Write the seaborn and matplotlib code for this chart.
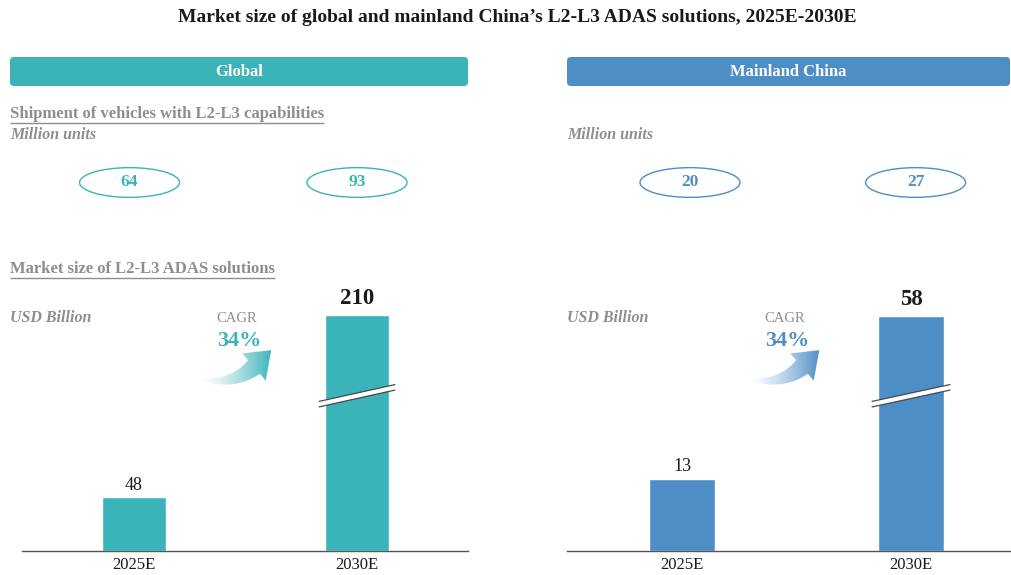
"""
Market size of global and mainland China's L2-L3 ADAS solutions, 2025E-2030E.

Two panels (Global / Mainland China), each with shipment bubbles on top
and a bar chart of the market size below.  Saves out.png.
"""

import numpy as np
import pandas as pd
import matplotlib
matplotlib.use("Agg")
import matplotlib.pyplot as plt
import seaborn as sns
from matplotlib.patches import FancyBboxPatch, Ellipse, PathPatch
from matplotlib.path import Path
from matplotlib.transforms import blended_transform_factory

# ── DATA ──────────────────────────────────────────────────────────────────────

YEARS           = ["2025E", "2030E"]
GLOBAL_SHIPMENT = [64, 93]      # million units
CHINA_SHIPMENT  = [20, 27]
GLOBAL_MARKET   = [48, 210]     # USD billion
CHINA_MARKET    = [13, 58]
GLOBAL_CAGR     = "34%"
CHINA_CAGR      = "34%"

# ── STYLE ─────────────────────────────────────────────────────────────────────

W, H  = 1012, 575
TEAL  = "#3AB4B9"
BLUE  = "#4E8EC6"
GREY  = "#8E8E8E"
DARK  = "#1A1A1A"

sns.set_theme(style="white")
plt.rcParams["font.family"] = ["Liberation Serif", "DejaVu Serif"]


def px_rect(x0, y0, x1, y1):
    """Pixel box (y down) -> figure fraction [left, bottom, width, height]."""
    return [x0 / W, 1 - y1 / H, (x1 - x0) / W, (y1 - y0) / H]


def broken_scale(break_at, k):
    """Linear up to break_at, compressed by k above it."""
    def fwd(y):
        y = np.asarray(y, dtype=float)
        return np.where(y <= break_at, y, break_at + (y - break_at) * k)

    def inv(y):
        y = np.asarray(y, dtype=float)
        return np.where(y <= break_at, y, break_at + (y - break_at) / k)
    return fwd, inv


def gradient_arrow(ov, x0, y0, color):
    """Curved arrow fading in from the left, drawn in overlay pixel coords."""
    P0 = np.array([x0, y0])
    P1 = P0 + np.array([32.0, 7.0])
    P2 = P0 + np.array([54.0, -12.0])
    t  = np.linspace(0, 1, 40)[:, None]
    pts  = (1 - t) ** 2 * P0 + 2 * (1 - t) * t * P1 + t ** 2 * P2
    tang = 2 * (1 - t) * (P1 - P0) + 2 * t * (P2 - P1)
    tang = tang / np.linalg.norm(tang, axis=1, keepdims=True)
    norm = np.column_stack([tang[:, 1], -tang[:, 0]])
    hw   = (1.0 + 8.0 * t)
    upper = pts + norm * hw
    lower = pts - norm * hw
    d, n = tang[-1], norm[-1]
    head = [P2 + n * 18, P2 + d * 24 + n * 1.5, P2 - n * 18]
    verts = np.vstack([upper, head, lower[::-1], upper[:1]])
    codes = [Path.MOVETO] + [Path.LINETO] * (len(verts) - 2) + [Path.CLOSEPOLY]
    patch = PathPatch(Path(verts, codes), fc="none", ec="none",
                      transform=ov.transData)
    ov.add_patch(patch)

    rgb = matplotlib.colors.to_rgb(color)
    grad = np.zeros((1, 256, 4))
    grad[..., :3] = rgb
    grad[..., 3] = np.linspace(0, 1, 256) ** 1.4
    xmin, xmax = verts[:, 0].min(), verts[:, 0].max()
    ymin, ymax = verts[:, 1].min(), verts[:, 1].max()
    im = ov.imshow(grad, extent=(xmin, xmax, ymax, ymin), aspect="auto",
                   interpolation="bilinear", zorder=3)
    im.set_clip_path(patch)


def underlined(fig, ov, x, y, s, **kw):
    t = ov.text(x, y, s, **kw)
    fig.canvas.draw()
    bb = t.get_window_extent()
    inv = ov.transData.inverted()
    (ax0, ay0), (ax1, _) = inv.transform([(bb.x0, bb.y0), (bb.x1, bb.y1)])
    ov.plot([ax0, ax1], [ay0 + 1.0, ay0 + 1.0], color=kw.get("color", GREY),
            lw=1.0, solid_capstyle="butt")


# ── PANEL ─────────────────────────────────────────────────────────────────────

def draw_panel(fig, ov, p):
    x0, x1 = p["x0"], p["x1"]

    # header strip
    ov.add_patch(FancyBboxPatch((p["hx0"], 57), p["hx1"] - p["hx0"], 29,
                                boxstyle="round,pad=0,rounding_size=4",
                                fc=p["color"], ec="none"))
    ov.text((p["hx0"] + p["hx1"]) / 2, 72, p["name"], color="white",
            fontsize=12, fontweight="bold", ha="center", va="center")

    lx = p["hx0"]
    if p["show_titles"]:
        underlined(fig, ov, lx, 114, "Shipment of vehicles with L2-L3 capabilities",
                   color=GREY, fontsize=12, fontweight="bold", va="center")
        underlined(fig, ov, lx, 269, "Market size of L2-L3 ADAS solutions",
                   color=GREY, fontsize=12, fontweight="bold", va="center")
    ov.text(lx, 135, "Million units", color=GREY, fontsize=11.5,
            fontweight="bold", style="italic", va="center")
    ov.text(lx, 318, "USD Billion", color=GREY, fontsize=11.5,
            fontweight="bold", style="italic", va="center")

    xlim = (-(p["zero"] - x0) / p["unit"], (x1 - p["zero"]) / p["unit"])

    # shipment ellipses
    ax_s = fig.add_axes(px_rect(x0, 160, x1, 205))
    ax_s.set_xlim(xlim)
    ax_s.set_ylim(0, 1)
    ax_s.axis("off")
    for i, v in enumerate(p["shipment"]):
        ax_s.add_patch(Ellipse((i + p["ell_dx"][i], 0.5), 100 / p["unit"], 0.66,
                               fc="white", ec=p["color"], lw=1.0))
        ax_s.text(i + p["ell_dx"][i], 0.5, str(v), color=p["color"], fontsize=12.5,
                  fontweight="bold", ha="center", va="center")

    # market size bars
    ax = fig.add_axes(px_rect(x0, 300, x1, 551))
    ax.patch.set_alpha(0)
    df = pd.DataFrame({"year": YEARS, "value": p["market"]})
    sns.barplot(df, x="year", y="value", color=p["color"], saturation=1,
                width=0.29, ax=ax)
    ax.set_yscale("function", functions=broken_scale(p["break_at"], p["k"]))
    ax.set_ylim(0, p["ytop"])
    ax.set_xlim(xlim)
    for i, v in enumerate(p["market"]):
        last = i == len(p["market"]) - 1
        ax.annotate(str(v), (i, v), xytext=(0, 4 if last else 2.5),
                    textcoords="offset points", ha="center", va="bottom",
                    fontsize=16.5 if last else 13, color=DARK,
                    fontweight="bold" if last else "normal")

    # axis break on the tall bar
    tr = blended_transform_factory(ax.transData, ax.transAxes)
    bx = np.array([0.83, 1.17])
    by = np.array([0.585, 0.652])
    ax.plot(bx, by, color="white", lw=3.6, transform=tr, clip_on=False,
            solid_capstyle="butt", zorder=4)
    for off in (-0.011, 0.011):
        ax.plot(bx, by + off, color="#4A4A4A", lw=0.9, transform=tr,
                clip_on=False, zorder=5)

    sns.despine(ax=ax, left=True)
    ax.spines["bottom"].set_color("#555555")
    ax.spines["bottom"].set_linewidth(1.0)
    ax.set_yticks([])
    ax.set_xlabel("")
    ax.set_ylabel("")
    ax.tick_params(axis="x", length=0, pad=4.5, labelsize=12, labelcolor=DARK)

    # CAGR annotation
    cx = p["cagr_x"]
    ov.text(cx, 318, "CAGR", color=GREY, fontsize=10.5, ha="center", va="center")
    ov.text(cx + 2, 341, p["cagr"], color=p["color"], fontsize=16,
            fontweight="bold", ha="center", va="center")
    gradient_arrow(ov, cx - 37, 379, p["color"])


PANELS = [
    dict(name="Global", color=TEAL, hx0=10, hx1=468, x0=22, x1=468,
         zero=134, unit=223, ell_dx=(-0.02, 0.0),
         shipment=GLOBAL_SHIPMENT, market=GLOBAL_MARKET, cagr=GLOBAL_CAGR,
         break_at=1e9, k=1.0, ytop=223, show_titles=True, cagr_x=237),
    dict(name="Mainland China", color=BLUE, hx0=567, hx1=1010, x0=567, x1=1010,
         zero=682, unit=229, ell_dx=(0.035, 0.02),
         shipment=CHINA_SHIPMENT, market=CHINA_MARKET, cagr=CHINA_CAGR,
         break_at=26, k=0.513, ytop=63.6, show_titles=False, cagr_x=785),
]

# ── MAIN ──────────────────────────────────────────────────────────────────────

fig = plt.figure(figsize=(W / 100, H / 100), dpi=100)
fig.patch.set_facecolor("white")

ov = fig.add_axes([0, 0, 1, 1], zorder=10)
ov.set_xlim(0, W)
ov.set_ylim(H, 0)
ov.axis("off")
ov.patch.set_alpha(0)

ov.text(517, 18, "Market size of global and mainland China\u2019s L2-L3 ADAS "
        "solutions, 2025E-2030E", color=DARK, fontsize=14, fontweight="bold",
        ha="center", va="center")

for p in PANELS:
    draw_panel(fig, ov, p)

ov.set_xlim(0, W)
ov.set_ylim(H, 0)
fig.savefig("out.png", dpi=100, facecolor="white")
